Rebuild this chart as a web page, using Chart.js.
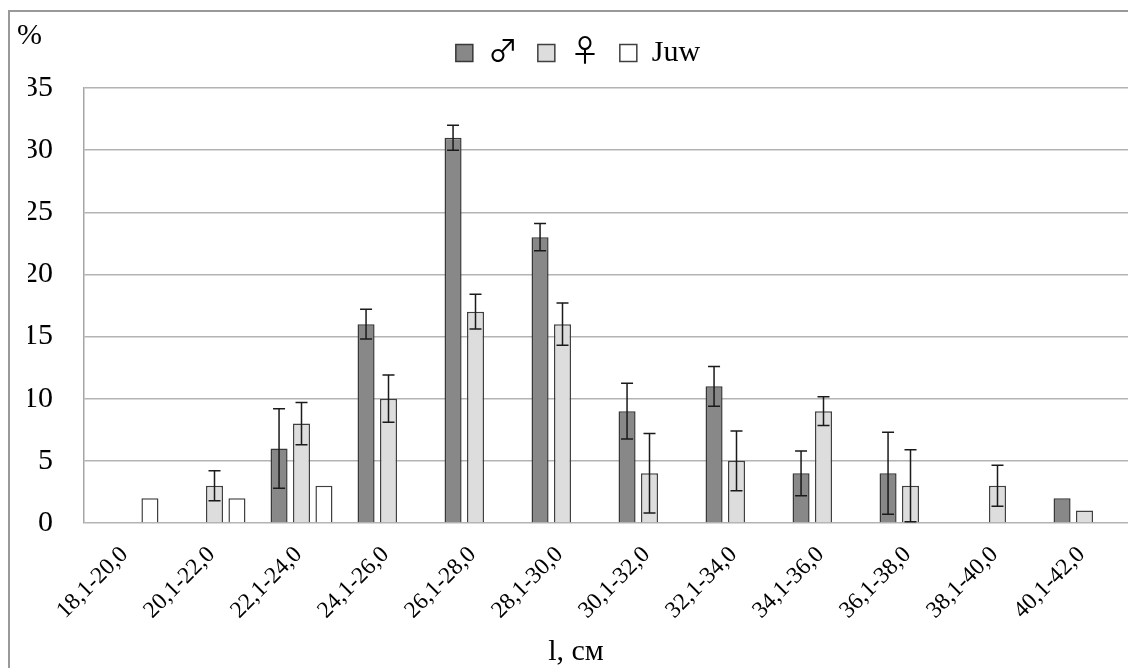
<!DOCTYPE html>
<html>
<head>
<meta charset="utf-8">
<script src="https://cdn.jsdelivr.net/npm/chart.js@4.4.1/dist/chart.umd.min.js"></script>
<style>
  /* símbolos ♂ ♀ maiores, vindos de uma fonte instalada */
  @font-face {
    font-family: 'Simbolos';
    src: local('Noto Sans CJK JP'), local('NotoSansCJKjp-Regular'), local('DejaVu Sans');
    unicode-range: U+2640, U+2642;
  }
  html, body { margin: 0; padding: 0; background: #fff; }
  #grafico { display: block; }
</style>
</head>
<body>
<canvas id="grafico" width="1128" height="668"></canvas>
<script>
// Categorias (classes de comprimento)
const categorias = ['18,1-20,0', '20,1-22,0', '22,1-24,0', '24,1-26,0', '26,1-28,0', '28,1-30,0',
                    '30,1-32,0', '32,1-34,0', '34,1-36,0', '36,1-38,0', '38,1-40,0', '40,1-42,0'];

// Valores das séries (%)
const machos = [0, 0, 6, 16, 31, 23, 9, 11, 4, 4, 0, 2];
const femeas = [0, 3, 8, 10, 17, 16, 4, 5, 9, 3, 3, 1];
const juvenis = [2, 2, 3, 0, 0, 0, 0, 0, 0, 0, 0, 0];

// Barras de erro (±)
const errosMachos = [0, 0, 3.2, 1.2, 1.0, 1.1, 2.25, 1.6, 1.8, 3.3, 0, 0];
const errosFemeas = [0, 1.2, 1.7, 1.9, 1.4, 1.7, 3.2, 2.4, 1.15, 2.9, 1.65, 0];

// Marcas do eixo Y
const marcasY = [0, 5, 10, 15, 20, 25, 30, 35];

const fonte = "'Liberation Serif', 'Times New Roman', serif";
const fonteLegenda = "'Simbolos', 'Liberation Serif', 'Times New Roman', serif";

// Plugin: moldura, "%", título do eixo X e barras de erro
const extras = {
    id: 'extras',
    beforeDraw(chart) {
        const ctx = chart.ctx;
        ctx.save();
        ctx.strokeStyle = '#999999';
        ctx.lineWidth = 2;
        ctx.strokeRect(9, 11, 1200, 700);
        ctx.restore();
    },
    afterDatasetsDraw(chart) {
        const ctx = chart.ctx;
        const y = chart.scales.y;
        const erros = [errosMachos, errosFemeas];
        ctx.save();
        ctx.strokeStyle = '#1a1a1a';
        ctx.lineWidth = 1.5;
        erros.forEach((lista, i) => {
            const meta = chart.getDatasetMeta(i);
            const valores = chart.data.datasets[i].data;
            lista.forEach((e, j) => {
                if (!e) return;
                const x = meta.data[j].x;
                const topo = y.getPixelForValue(valores[j] + e);
                const base = y.getPixelForValue(Math.max(0, valores[j] - e));
                ctx.beginPath();
                ctx.moveTo(x, topo); ctx.lineTo(x, base);
                ctx.moveTo(x - 6, topo); ctx.lineTo(x + 6, topo);
                ctx.moveTo(x - 6, base); ctx.lineTo(x + 6, base);
                ctx.stroke();
            });
        });
        ctx.restore();
    },
    afterDraw(chart) {
        const ctx = chart.ctx;
        ctx.save();
        ctx.fillStyle = '#000';
        ctx.font = '30px ' + fonte;
        ctx.textBaseline = 'middle';
        ctx.textAlign = 'left';
        ctx.fillText('%', 17, 36);
        ctx.textAlign = 'center';
        ctx.textBaseline = 'alphabetic';
        ctx.fillText('l, см', 576, 660);
        ctx.restore();
    }
};

function criarGrafico() {
    const ctx = document.getElementById('grafico').getContext('2d');

    return new Chart(ctx, {
        type: 'bar',
        data: {
            labels: categorias,
            datasets: [{
                label: '♂',
                data: machos,
                backgroundColor: '#888888',
                borderColor: '#383838',
                borderWidth: 1.5
            }, {
                label: '♀',
                data: femeas,
                backgroundColor: '#dddddd',
                borderColor: '#404040',
                borderWidth: 1.5
            }, {
                label: 'Juw',
                data: juvenis,
                backgroundColor: '#ffffff',
                borderColor: '#404040',
                borderWidth: 1.5
            }]
        },
        options: {
            responsive: false,
            animation: false,
            layout: {
                padding: { left: 28, right: 0, top: 18, bottom: 0 }
            },
            datasets: {
                bar: {
                    categoryPercentage: 0.774,
                    barPercentage: 0.76
                }
            },
            scales: {
                x: {
                    grid: { display: false, drawTicks: false },
                    border: { display: false },
                    ticks: {
                        color: '#000',
                        font: { family: fonte, size: 23.5 },
                        maxRotation: 45,
                        minRotation: 45,
                        padding: 18,
                        labelOffset: -3
                    },
                    afterFit(scale) {
                        scale.height = 145;
                        scale.paddingLeft = 0;
                        scale.paddingRight = 0;
                    }
                },
                y: {
                    min: 0,
                    max: 35,
                    afterBuildTicks(scale) {
                        scale.ticks = marcasY.map(v => ({ value: v }));
                    },
                    grid: { color: '#b3b3b3', lineWidth: 1.5, drawTicks: false },
                    border: { display: true, color: '#a6a6a6', width: 1.5 },
                    ticks: {
                        color: '#000',
                        font: { family: fonte, size: 30 },
                        padding: 31
                    },
                    afterFit(scale) {
                        scale.width = 56;
                        scale.paddingTop = 0;
                        scale.paddingBottom = 0;
                    }
                }
            },
            plugins: {
                legend: {
                    display: true,
                    position: 'top',
                    weight: 2000,
                    labels: {
                        color: '#000',
                        font: { family: fonteLegenda, size: 30 },
                        boxWidth: 17,
                        boxHeight: 17,
                        padding: 20
                    }
                },
                // espaço vazio entre a legenda e a área do gráfico
                subtitle: {
                    display: true,
                    text: '',
                    weight: 500,
                    padding: 0,
                    font: { size: 10, lineHeight: 1 }
                },
                tooltip: { enabled: false }
            }
        },
        plugins: [extras]
    });
}

// Espera a fonte dos símbolos antes de desenhar
let grafico;
document.fonts.load('30px Simbolos', '♂♀').then(() => {
    grafico = criarGrafico();
}).catch(() => {
    grafico = criarGrafico();
});
</script>
</body>
</html>
